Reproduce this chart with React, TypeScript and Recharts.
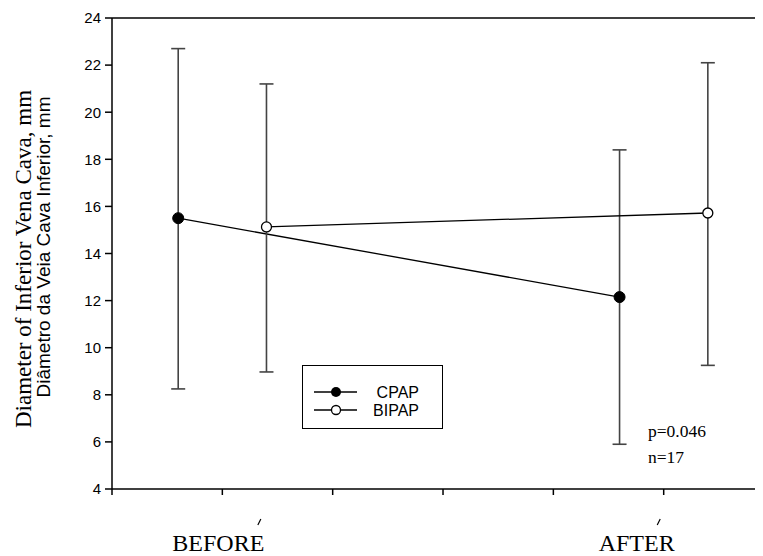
import { LineChart, Line, XAxis, YAxis, ErrorBar, ReferenceLine, Legend } from "recharts";

// positions on the x axis (tick units), means and error bar limits
const cpapX = [0.6, 4.6];
const cpapMean = [15.5, 12.15];
const cpapLow = [8.25, 5.9];
const cpapHigh = [22.7, 18.4];

const bipapX = [1.4, 5.4];
const bipapMean = [15.13, 15.72];
const bipapLow = [8.97, 9.25];
const bipapHigh = [21.2, 22.1];

const xTicks = [0, 1, 2, 3, 4, 5];
const xLabels: Record<number, string> = { 1: "BEFORE", 5: "AFTER" };
const yTicks = [4, 6, 8, 10, 12, 14, 16, 18, 20, 22, 24];

const yTitle = "Diameter of Inferior Vena Cava, mm";
const yTitlePt = "Diâmetro da Veia Cava Inferior, mm";
const statLines = ["p=0.046", "n=17"];

const toRows = (xs: number[], mean: number[], low: number[], high: number[]) =>
  xs.map((x, i) => ({ x, y: mean[i], err: [mean[i] - low[i], high[i] - mean[i]] }));

const cpapRows = toRows(cpapX, cpapMean, cpapLow, cpapHigh);
const bipapRows = toRows(bipapX, bipapMean, bipapLow, bipapHigh);

const SERIF = "'Liberation Serif', 'Times New Roman', serif";
const SANS = "'Liberation Sans', Arial, sans-serif";

function XTick(props: any) {
  const { x, y, payload } = props;
  const label = xLabels[payload.value];
  if (!label) return null;
  // labels sit a little left of their tick in the original, with a stray accent mark above
  const shift = payload.value === 1 ? -4 : -27;
  const mark = payload.value === 1 ? 37 : -5;
  return (
    <g>
      <text x={x + shift} y={y + 54} textAnchor="middle" fontFamily={SERIF} fontSize={24} fill="#000">
        {label}
      </text>
      <line x1={x + mark - 1.5} y1={y + 28} x2={x + mark + 1.5} y2={y + 22} stroke="#000" strokeWidth={1.2} />
    </g>
  );
}

function YTitle(props: any) {
  const vb = props.viewBox || { x: 0, y: 10, width: 104, height: 471 };
  const c1y = vb.y + 241;
  const c2y = vb.y + 229;
  return (
    <g>
      <text
        x={23}
        y={c1y}
        transform={`rotate(-90 23 ${c1y})`}
        textAnchor="middle"
        fontFamily={SERIF}
        fontSize={23}
        fill="#000"
      >
        {yTitle}
      </text>
      <text
        x={42}
        y={c2y}
        transform={`rotate(-90 42 ${c2y})`}
        textAnchor="middle"
        fontFamily={SANS}
        fontSize={19}
        fill="#000"
      >
        {yTitlePt}
      </text>
    </g>
  );
}

function LegendBox() {
  return (
    <div style={{ width: 141, height: 64, border: "1.5px solid #000", boxSizing: "border-box", background: "#fff" }}>
      <svg width={138} height={61} style={{ display: "block" }}>
        <line x1={11} y1={26} x2={54} y2={26} stroke="#000" strokeWidth={1.3} />
        <circle cx={33} cy={26} r={5} fill="#000" />
        <text x={116} y={31.5} textAnchor="end" fontFamily={SANS} fontSize={16} fill="#000">CPAP</text>
        <line x1={11} y1={44} x2={54} y2={44} stroke="#000" strokeWidth={1.3} />
        <circle cx={33} cy={44} r={4.5} fill="#fff" stroke="#000" strokeWidth={1.3} />
        <text x={116} y={49.5} textAnchor="end" fontFamily={SANS} fontSize={16} fill="#000">BIPAP</text>
      </svg>
    </div>
  );
}

export default function App() {
  return (
    <div style={{ position: "relative", width: 755, height: 548 }}>
      <LineChart width={755} height={548} margin={{ top: 10, right: 0, bottom: 0, left: 0 }}>
        <XAxis
          type="number"
          dataKey="x"
          domain={[0, 5.9]}
          ticks={xTicks}
          allowDataOverflow
          height={67}
          stroke="#000"
          strokeWidth={1.5}
          tickSize={6}
          tickMargin={2}
          tick={<XTick />}
        />
        <YAxis
          type="number"
          domain={[4, 24]}
          ticks={yTicks}
          width={104}
          stroke="#000"
          strokeWidth={1.5}
          tickSize={7}
          tickMargin={4}
          tick={{ fill: "#000", fontSize: 15, fontFamily: SANS }}
          label={<YTitle />}
        />
        <ReferenceLine y={24} stroke="#000" strokeWidth={1.5} />
        <Legend
          layout="vertical"
          align="center"
          verticalAlign="middle"
          content={<LegendBox />}
          wrapperStyle={{ position: "absolute", left: 294, top: 357, width: 141, height: 64 }}
        />
        <Line
          data={cpapRows}
          dataKey="y"
          name="CPAP"
          stroke="#000"
          strokeWidth={1.3}
          isAnimationActive={false}
          dot={{ r: 5.5, fill: "#000", stroke: "#000", strokeWidth: 1 }}
          activeDot={false}
        >
          <ErrorBar dataKey="err" direction="y" width={7} stroke="#444" strokeWidth={1.6} isAnimationActive={false} />
        </Line>
        <Line
          data={bipapRows}
          dataKey="y"
          name="BIPAP"
          stroke="#000"
          strokeWidth={1.3}
          isAnimationActive={false}
          dot={{ r: 5, fill: "#fff", stroke: "#000", strokeWidth: 1.3 }}
          activeDot={false}
        >
          <ErrorBar dataKey="err" direction="y" width={7} stroke="#444" strokeWidth={1.6} isAnimationActive={false} />
        </Line>
      </LineChart>
      <svg width={120} height={60} style={{ position: "absolute", left: 632, top: 408 }}>
        {statLines.map((s, i) => (
          <text key={s} x={8} y={21 + i * 26} fontFamily={SERIF} fontSize={17.5} fill="#000">
            {s}
          </text>
        ))}
      </svg>
    </div>
  );
}
